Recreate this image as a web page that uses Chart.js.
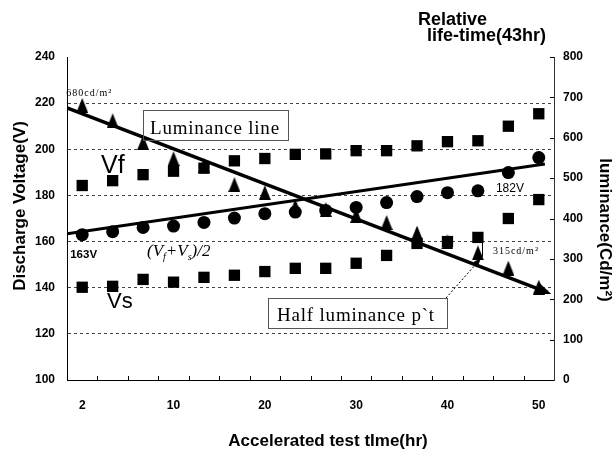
<!DOCTYPE html>
<html>
<head>
<meta charset="utf-8">
<script src="https://cdn.jsdelivr.net/npm/chart.js@4/dist/chart.umd.min.js"></script>
<style>
  html, body { margin: 0; padding: 0; background: #fff; }
</style>
</head>
<body>
<canvas id="life-chart" width="616" height="454"></canvas>
<script>
// accelerated test readings, time axis labelled every third reading
const hourLabels = ['2', '', '', '10', '', '', '20', '', '', '30', '', '', '40', '', '', '50'];
const vfVolt = [184.3, 186.4, 189.0, 190.5, 191.8, 195.0, 196.0, 197.8, 198.0, 199.4, 199.4, 201.5, 203.3, 203.7, 210.0, 215.4];
const vsVolt = [140.2, 140.6, 143.6, 142.4, 144.5, 145.4, 147.0, 148.4, 148.4, 150.6, 154.0, 159.2, 160.0, 161.8, 170.0, 178.2];
const avgVolt = [163, 164.3, 166.1, 166.7, 168.3, 170.2, 172.1, 172.8, 173.5, 174.8, 176.9, 179.5, 181.2, 182, 189.9, 196.4];
const luminance = [680, 642, 588, 548, 531, 484, 464, 430, 422, 408, 390, 364, 342, 315, 277, 230];

// fitted lines: [position on time axis, value]
const avgFit = [[-0.5, 163.4], [15.2, 193.6]];
const lumFit = [[-0.5, 674], [15.28, 217]];

const voltRange = [100, 240, 20];
const lumRange = [0, 800, 100];

const sans = '"Liberation Sans", Arial, sans-serif';
const narrow = '"Liberation Sans Narrow", "Liberation Sans", Arial, sans-serif';
const serif = '"Liberation Serif", "Times New Roman", serif';

// narrow upright triangle for the luminance marks
function triangleMark(w, h) {
    const c = document.createElement('canvas');
    c.width = w;
    c.height = h;
    const g = c.getContext('2d');
    g.fillStyle = '#000';
    g.beginPath();
    g.moveTo(w / 2, 0);
    g.lineTo(w, h);
    g.lineTo(0, h);
    g.closePath();
    g.fill();
    return c;
}

function seg(ctx, x1, y1, x2, y2) {
    ctx.beginPath();
    ctx.moveTo(x1, y1);
    ctx.lineTo(x2, y2);
    ctx.stroke();
}

function arrowHead(ctx, tx, ty, ang, len, half) {
    ctx.beginPath();
    ctx.moveTo(tx, ty);
    ctx.lineTo(tx - len * Math.cos(ang) + half * Math.sin(ang), ty - len * Math.sin(ang) - half * Math.cos(ang));
    ctx.lineTo(tx - len * Math.cos(ang) - half * Math.sin(ang), ty - len * Math.sin(ang) + half * Math.cos(ang));
    ctx.closePath();
    ctx.fill();
}

// axis titles, notes and inner tick marks
const notesPlugin = {
    id: 'notes',
    afterDraw(chart) {
        const { ctx, chartArea: area, scales: { x, y, y2, xt } } = chart;
        ctx.save();
        ctx.fillStyle = '#000';
        ctx.strokeStyle = '#000';
        ctx.lineWidth = 1;

        // short ticks inside the plot, between the readings
        const step = (area.right - area.left) / hourLabels.length;
        for (let i = 1; i < hourLabels.length; i++) {
            const px = Math.round(x.getPixelForValue(i) - step / 2) + 0.5;
            seg(ctx, px, area.bottom, px, area.bottom - 4);
        }
        for (let v = lumRange[0]; v <= lumRange[1]; v += lumRange[2]) {
            const py = Math.round(y2.getPixelForValue(v)) + 0.5;
            seg(ctx, area.right - 4, py, area.right, py);
        }

        // arrow head at the end of the luminance line
        const ax0 = xt.getPixelForValue(lumFit[0][0]), ay0 = y2.getPixelForValue(lumFit[0][1]);
        const ax1 = xt.getPixelForValue(lumFit[1][0]), ay1 = y2.getPixelForValue(lumFit[1][1]);
        arrowHead(ctx, ax1 + 4, ay1 + 1.5, Math.atan2(ay1 - ay0, ax1 - ax0), 15, 6);

        // axis titles
        ctx.font = 'bold 17px ' + sans;
        ctx.textAlign = 'center';
        ctx.textBaseline = 'middle';
        ctx.fillText('Accelerated test tIme(hr)', 328, 441);

        ctx.save();
        ctx.translate(20, 206);
        ctx.rotate(-Math.PI / 2);
        ctx.fillText('Discharge Voltage(V)', 0, 0);
        ctx.restore();

        ctx.save();
        ctx.translate(605, 230);
        ctx.rotate(Math.PI / 2);
        ctx.fillText('luminance(Cd/m²)', 0, 0);
        ctx.restore();

        ctx.font = 'bold 18px ' + sans;
        ctx.textAlign = 'left';
        ctx.textBaseline = 'alphabetic';
        ctx.fillText('Relative', 418, 25);
        ctx.fillText('life-time(43hr)', 427, 41);

        // boxed notes
        ctx.strokeStyle = '#555';
        ctx.strokeRect(143.5, 110.5, 145, 30);
        ctx.strokeRect(268.5, 298.5, 179, 30);
        ctx.font = '19px ' + serif;
        ctx.letterSpacing = '0.8px';
        ctx.fillText('Luminance line', 150, 134);
        ctx.fillText('Half luminance p`t', 277, 321);
        ctx.letterSpacing = '0px';

        // pointer from the half-luminance box to the line
        ctx.strokeStyle = '#000';
        ctx.setLineDash([2, 2]);
        seg(ctx, 446, 298, 476, 264);
        ctx.setLineDash([]);
        arrowHead(ctx, 481, 258, Math.atan2(-34, 30), 8, 3);

        // marker between Vs and luminance at the half-luminance reading
        const hx = Math.round(x.getPixelForValue(13)) + 4.5;
        seg(ctx, hx, y.getPixelForValue(vsVolt[13]) - 5, hx, y2.getPixelForValue(luminance[13]) + 4);

        // series names
        ctx.font = '25px ' + narrow;
        ctx.fillText('Vf', 101, 173);
        ctx.font = '22px ' + narrow;
        ctx.fillText('Vs', 107, 308);

        let tx = 147;
        const parts = [['(V', 0], ['f', 1], ['+V', 0], ['s', 1], [')/2', 0]];
        for (const [t, sub] of parts) {
            ctx.font = sub ? 'italic 10px ' + serif : 'italic 17px ' + serif;
            ctx.fillText(t, tx, sub ? 260 : 256);
            tx += ctx.measureText(t).width;
        }

        // value notes
        ctx.textBaseline = 'middle';
        ctx.font = 'bold 11.5px ' + sans;
        ctx.fillText(avgVolt[0] + 'V', x.getPixelForValue(0) - 12, y.getPixelForValue(avgVolt[0]) + 20);
        ctx.font = '12px ' + sans;
        ctx.fillText(avgVolt[13] + 'V', x.getPixelForValue(13) + 18, y.getPixelForValue(avgVolt[13]) - 2);
        ctx.font = '10px ' + serif;
        ctx.letterSpacing = '1px';
        ctx.fillText(luminance[0] + 'cd/m²', x.getPixelForValue(0) - 16, y2.getPixelForValue(luminance[0]) - 12);
        ctx.fillText(luminance[13] + 'cd/m²', x.getPixelForValue(13) + 15, y2.getPixelForValue(luminance[13]) - 1);
        ctx.restore();
    }
};

const chartCanvas = document.getElementById('life-chart').getContext('2d');
const black = '#000';

new Chart(chartCanvas, {
    type: 'line',
    data: {
        labels: hourLabels,
        datasets: [
            {
                label: 'Luminance line',
                data: lumFit.map(([px, v]) => ({ x: px, y: v })),
                xAxisID: 'xt', yAxisID: 'y2',
                borderColor: black, borderWidth: 3.5, pointRadius: 0
            },
            {
                label: '(Vf+Vs)/2 line',
                data: avgFit.map(([px, v]) => ({ x: px, y: v })),
                xAxisID: 'xt', yAxisID: 'y',
                borderColor: black, borderWidth: 3, pointRadius: 0
            },
            {
                label: 'Vf',
                data: vfVolt, yAxisID: 'y', showLine: false,
                pointStyle: 'rect', pointRadius: 8,
                backgroundColor: black, borderColor: black, borderWidth: 0
            },
            {
                label: 'Vs',
                data: vsVolt, yAxisID: 'y', showLine: false,
                pointStyle: 'rect', pointRadius: 8,
                backgroundColor: black, borderColor: black, borderWidth: 0
            },
            {
                label: '(Vf+Vs)/2',
                data: avgVolt, yAxisID: 'y', showLine: false,
                pointStyle: 'circle', pointRadius: 6.5,
                backgroundColor: black, borderColor: black, borderWidth: 0
            },
            {
                label: 'Luminance',
                data: luminance, yAxisID: 'y2', showLine: false,
                pointStyle: triangleMark(12, 15),
                backgroundColor: black, borderColor: black
            }
        ]
    },
    options: {
        responsive: false,
        animation: false,
        layout: { padding: { top: 57, left: 0, right: 0, bottom: 0 } },
        plugins: { legend: { display: false }, tooltip: { enabled: false } },
        elements: { line: { tension: 0 } },
        scales: {
            x: {
                type: 'category',
                offset: true,
                grid: { drawOnChartArea: false, drawTicks: false, offset: true },
                border: { display: true, color: black, width: 1 },
                ticks: {
                    autoSkip: false, maxRotation: 0, padding: 18, color: black,
                    font: { family: sans, size: 12, weight: 'bold' }
                },
                afterFit: (s) => { s.height = 74; }
            },
            xt: {
                type: 'linear', display: false,
                min: -0.5, max: hourLabels.length - 0.5
            },
            y: {
                position: 'left',
                min: voltRange[0], max: voltRange[1],
                ticks: {
                    stepSize: voltRange[2], padding: 12, color: black,
                    font: { family: sans, size: 12, weight: 'bold' }
                },
                grid: {
                    drawTicks: false, lineWidth: 1,
                    color: (c) => (c.tick && (c.tick.value === voltRange[0] || c.tick.value === voltRange[1])) ? 'rgba(0,0,0,0)' : '#444'
                },
                border: { display: true, color: black, width: 1, dash: [3, 3] },
                afterFit: (s) => { s.width = 67; }
            },
            y2: {
                position: 'right',
                min: lumRange[0], max: lumRange[1],
                ticks: {
                    stepSize: lumRange[2], padding: 9, color: black,
                    font: { family: sans, size: 12, weight: 'bold' }
                },
                grid: { drawOnChartArea: false, drawTicks: false },
                border: { display: true, color: '#333', width: 1 },
                afterFit: (s) => { s.width = 62; }
            }
        }
    },
    plugins: [notesPlugin]
});
</script>
</body>
</html>
